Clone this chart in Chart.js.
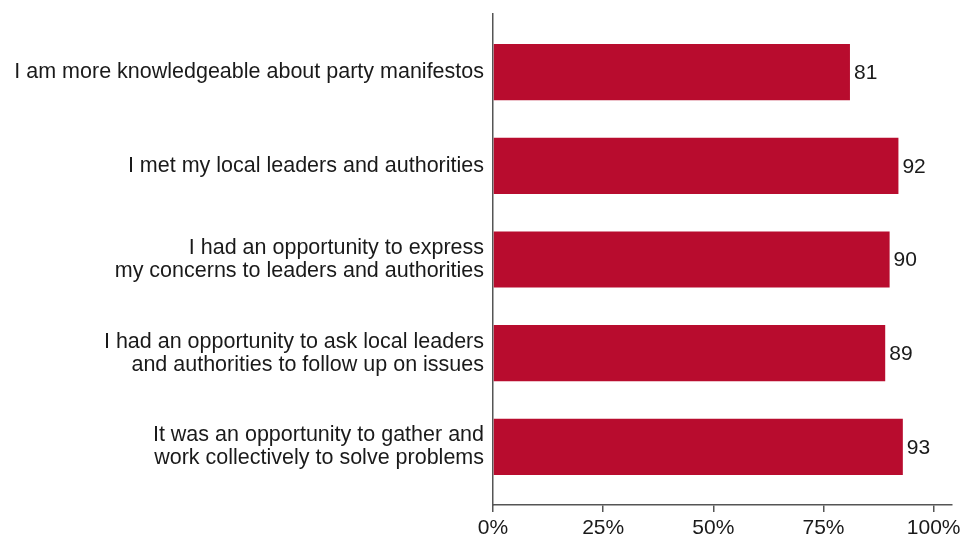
<!DOCTYPE html>
<html>
<head>
    <title>Participation outcomes</title>
    <style>
        body {
            margin: 0;
            padding: 0;
            background-color: #fff;
        }

        #chart-container {
            width: 965px;
            height: 540px;
        }
    </style>
</head>
<body>
    <div id="chart-container">
        <canvas id="outcome-chart"></canvas>
    </div>

    <script src="https://cdn.jsdelivr.net/npm/chart.js"></script>
    <script>
        // Statements, top to bottom (multi-line labels are arrays)
        const statements = [
            'I am more knowledgeable about party manifestos',
            'I met my local leaders and authorities',
            ['I had an opportunity to express', 'my concerns to leaders and authorities'],
            ['I had an opportunity to ask local leaders', 'and authorities to follow up on issues'],
            ['It was an opportunity to gather and', 'work collectively to solve problems']
        ];
        // Share agreeing, in percent
        const shares = [81, 92, 90, 89, 93];
        const percentTicks = [0, 25, 50, 75, 100];

        const barColor = '#b80c2e';
        const axisColor = '#555555';
        const textColor = '#1a1a1a';
        const fontFamily = 'Arial, "Liberation Sans", sans-serif';
        const fontSize = 21;

        // Writes each bar's value just past its end
        const valueLabels = {
            id: 'valueLabels',
            afterDatasetsDraw(chart) {
                const ctx = chart.ctx;
                const meta = chart.getDatasetMeta(0);
                ctx.save();
                ctx.font = fontSize + 'px ' + fontFamily;
                ctx.fillStyle = textColor;
                ctx.textAlign = 'left';
                ctx.textBaseline = 'middle';
                meta.data.forEach((bar, i) => {
                    ctx.fillText(String(shares[i]), bar.x + 4, bar.y + 1);
                });
                ctx.restore();
            }
        };

        const ctx = document.getElementById('outcome-chart').getContext('2d');
        new Chart(ctx, {
            type: 'bar',
            data: {
                datasets: [{
                    data: shares.map((v, i) => ({ x: v, y: i })),
                    backgroundColor: barColor,
                    borderWidth: 0,
                    categoryPercentage: 0.6,
                    barPercentage: 1
                }]
            },
            options: {
                indexAxis: 'y',
                responsive: true,
                maintainAspectRatio: false,
                animation: false,
                layout: {
                    padding: { top: 14, right: 12, left: 0, bottom: 0 }
                },
                plugins: {
                    legend: { display: false },
                    tooltip: { enabled: false }
                },
                scales: {
                    x: {
                        type: 'linear',
                        min: 0,
                        max: 104,
                        afterBuildTicks: scale => {
                            scale.ticks = percentTicks.map(v => ({ value: v }));
                        },
                        afterFit: scale => {
                            scale.height = 35;
                        },
                        border: { display: true, color: axisColor, width: 1.5 },
                        grid: {
                            drawOnChartArea: false,
                            drawTicks: true,
                            tickLength: 7,
                            color: axisColor,
                            lineWidth: 1.5
                        },
                        ticks: {
                            padding: 4,
                            maxRotation: 0,
                            color: textColor,
                            font: { family: fontFamily, size: fontSize },
                            callback: v => v + '%'
                        }
                    },
                    y: {
                        type: 'linear',
                        offset: false,
                        reverse: true,
                        min: -0.62,
                        max: statements.length - 1 + 0.62,
                        afterBuildTicks: scale => {
                            scale.ticks = statements.map((s, i) => ({ value: i }));
                        },
                        afterFit: scale => {
                            // fixed label column, no extra room above/below the axis
                            scale.width = 493;
                            scale.paddingTop = 0;
                            scale.paddingBottom = 0;
                        },
                        border: { display: true, color: axisColor, width: 1.5 },
                        grid: { display: false, drawTicks: false },
                        ticks: {
                            padding: 9,
                            color: textColor,
                            font: { family: fontFamily, size: 21.5, lineHeight: 1.08 },
                            callback: v => statements[v]
                        }
                    }
                }
            },
            plugins: [valueLabels]
        });
    </script>
</body>
</html>
